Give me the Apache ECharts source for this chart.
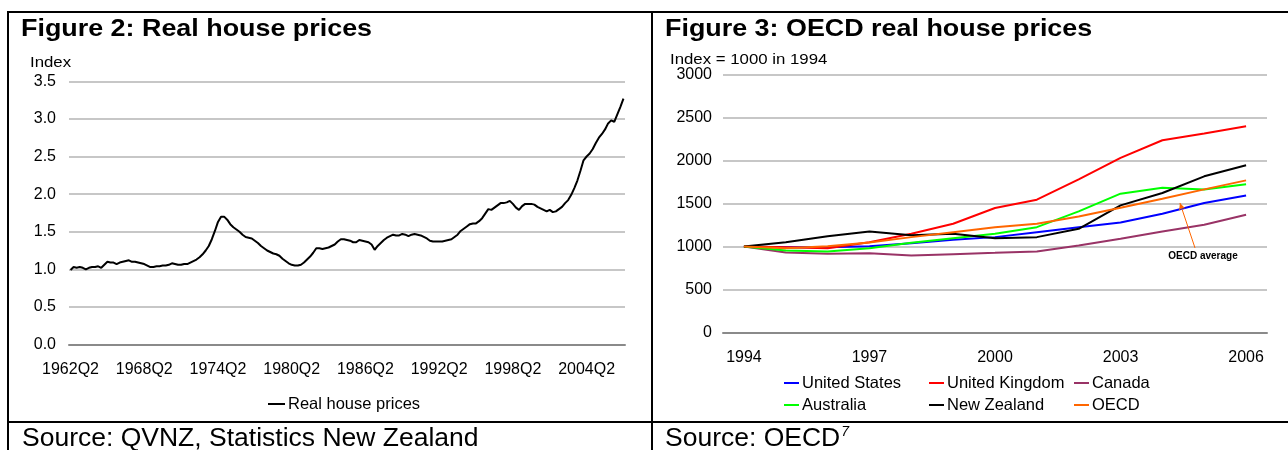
<!DOCTYPE html>
<html>
<head>
<meta charset="utf-8">
<script src="https://cdn.jsdelivr.net/npm/echarts@6/dist/echarts.min.js"></script>
<style>
  html, body { margin: 0; padding: 0; background: #ffffff; }
  #chart { width: 1288px; height: 450px; }
</style>
</head>
<body>
<div id="chart"></div>
<script>
// ---- Figure 2: real house price index, quarterly from 1962Q2 ----
const houseStartYear = 1962;
const houseStartQuarter = 2;
const realHousePrices = [
  0.99, 1.03, 1.02, 1.03, 1.02, 1.00, 1.02, 1.03, 1.03, 1.04,
  1.02, 1.06, 1.10, 1.09, 1.09, 1.07, 1.09, 1.10, 1.11, 1.12,
  1.10, 1.10, 1.09, 1.08, 1.07, 1.05, 1.03, 1.03, 1.04, 1.04,
  1.05, 1.05, 1.06, 1.08, 1.07, 1.06, 1.06, 1.07, 1.07, 1.09,
  1.11, 1.13, 1.16, 1.20, 1.25, 1.31, 1.40, 1.51, 1.63, 1.70,
  1.70, 1.66, 1.60, 1.56, 1.53, 1.50, 1.46, 1.43, 1.42, 1.41,
  1.38, 1.35, 1.31, 1.28, 1.25, 1.23, 1.21, 1.20, 1.18, 1.14,
  1.11, 1.08, 1.06, 1.05, 1.05, 1.06, 1.09, 1.13, 1.17, 1.22,
  1.28, 1.28, 1.27, 1.28, 1.29, 1.31, 1.33, 1.37, 1.40, 1.40,
  1.39, 1.38, 1.36, 1.36, 1.39, 1.38, 1.37, 1.36, 1.33, 1.26,
  1.31, 1.35, 1.39, 1.42, 1.44, 1.46, 1.45, 1.45, 1.47, 1.46,
  1.44, 1.46, 1.47, 1.46, 1.45, 1.43, 1.41, 1.38, 1.37, 1.37,
  1.37, 1.37, 1.38, 1.39, 1.40, 1.43, 1.46, 1.51, 1.54, 1.57,
  1.60, 1.61, 1.61, 1.64, 1.68, 1.74, 1.80, 1.79, 1.82, 1.85,
  1.88, 1.88, 1.89, 1.91, 1.87, 1.82, 1.79, 1.84, 1.87, 1.87,
  1.87, 1.86, 1.83, 1.81, 1.79, 1.77, 1.79, 1.76, 1.77, 1.80,
  1.83, 1.88, 1.92, 1.99, 2.08, 2.18, 2.31, 2.45, 2.50, 2.54,
  2.60, 2.68, 2.75, 2.80, 2.86, 2.94, 2.98, 2.96, 3.06, 3.16,
  3.27
];
const houseYTicks = { min: 0, max: 3.5, step: 0.5 };

// quarter labels such as "1962Q2"
const houseQuarters = realHousePrices.map(function (_, i) {
  const q = houseStartQuarter - 1 + i;
  return (houseStartYear + Math.floor(q / 4)) + 'Q' + (q % 4 + 1);
});

// ---- Figure 3: OECD real house prices, index = 1000 in 1994 ----
const oecdYears = ['1994', '1995', '1996', '1997', '1998', '1999', '2000',
                   '2001', '2002', '2003', '2004', '2005', '2006'];
const unitedStates  = [1000,  992,  992, 1004, 1039, 1078, 1109, 1167, 1225, 1280, 1381, 1505, 1594];
const unitedKingdom = [1000,  990,  980, 1050, 1148, 1264, 1447, 1544, 1781, 2030, 2235, 2313, 2399];
const canada        = [1000,  930,  915,  922,  895,  911,  926,  942, 1012, 1089, 1175, 1253, 1369];
const australia     = [1000,  953,  942,  981, 1043, 1097, 1148, 1225, 1408, 1614, 1684, 1664, 1723];
const newZealand    = [1000, 1050, 1120, 1175, 1132, 1148, 1097, 1109, 1206, 1478, 1622, 1816, 1944];
const oecd          = [1000,  980, 1004, 1047, 1109, 1167, 1225, 1264, 1350, 1451, 1556, 1664, 1769];
const oecdYTicks = { min: 0, max: 3000, step: 500 };

// callout for the OECD line: [year, index] for text, arrow tail and arrow head
const oecdCalloutText = [2004.97, 889];
const oecdCalloutTail = [2004.78, 983];
const oecdCalloutHead = [2004.42, 1506];

const FONT = '"Liberation Sans", Arial, sans-serif';
const GRID_LINE = '#b4b4b4';
const AXIS_LINE = '#8a8a8a';

const chart = echarts.init(document.getElementById('chart'), null, { renderer: 'canvas' });

function lineSeries(name, data, color, xi, yi) {
  return {
    name: name, type: 'line', data: data,
    xAxisIndex: xi, yAxisIndex: yi,
    showSymbol: false, symbol: 'none', smooth: false,
    lineStyle: { color: color, width: 2 },
    itemStyle: { color: color },
    emphasis: { disabled: true },
    animation: false
  };
}

const legendText = { fontFamily: FONT, fontSize: 16.5, color: '#000', padding: [0, 0, 0, -2], lineHeight: 18 };

function legendColumn(left, names) {
  return {
    left: left, top: 374, orient: 'vertical', padding: 0,
    icon: 'rect', itemWidth: 15, itemHeight: 2, itemGap: 4,
    selectedMode: false,
    textStyle: legendText,
    data: names
  };
}

// heading / note text drawn slightly wide, as in the printed report
function note(left, top, text, font, sx) {
  return { type: 'text', left: left, top: top, scaleX: sx || 1, originX: 0,
           style: { text: text, font: font, fill: '#000' } };
}

const option = {
  animation: false,
  backgroundColor: '#ffffff',
  textStyle: { fontFamily: FONT },
  grid: [
    { left: 69, top: 81.3, width: 556, height: 263.2, containLabel: false },
    { left: 723, top: 74.5, width: 544, height: 258, containLabel: false }
  ],
  xAxis: [
    {
      type: 'category', gridIndex: 0, data: houseQuarters, boundaryGap: true,
      axisLine: { show: true, lineStyle: { color: AXIS_LINE, width: 2 } },
      axisTick: { show: false },
      axisLabel: { interval: 23, margin: 17, fontFamily: FONT, fontSize: 16, color: '#000' },
      splitLine: { show: false }
    },
    {
      type: 'category', gridIndex: 1, data: oecdYears, boundaryGap: true,
      axisLine: { show: true, lineStyle: { color: AXIS_LINE, width: 2 } },
      axisTick: { show: false },
      axisLabel: { interval: 2, margin: 17, fontFamily: FONT, fontSize: 16, color: '#000' },
      splitLine: { show: false }
    },
    {
      // numeric year scale over the same band, used to place the callout
      type: 'value', gridIndex: 1, min: 1993.5, max: 2006.5, show: false
    }
  ],
  yAxis: [
    {
      type: 'value', gridIndex: 0,
      min: houseYTicks.min, max: houseYTicks.max, interval: houseYTicks.step,
      axisLine: { show: false }, axisTick: { show: false },
      axisLabel: { margin: 13, fontFamily: FONT, fontSize: 16, color: '#000',
                   formatter: function (v) { return v.toFixed(1); } },
      splitLine: { show: true, lineStyle: { color: GRID_LINE, width: 1.5 } }
    },
    {
      type: 'value', gridIndex: 1,
      min: oecdYTicks.min, max: oecdYTicks.max, interval: oecdYTicks.step,
      axisLine: { show: false }, axisTick: { show: false },
      axisLabel: { margin: 11, fontFamily: FONT, fontSize: 16, color: '#000',
                   formatter: function (v) { return String(v); } },
      splitLine: { show: true, lineStyle: { color: GRID_LINE, width: 1.5 } }
    }
  ],
  legend: [
    {
      left: 268, top: 395, padding: 0,
      icon: 'rect', itemWidth: 17, itemHeight: 2, itemGap: 10,
      selectedMode: false,
      textStyle: legendText,
      data: ['Real house prices']
    },
    legendColumn(784, ['United States', 'Australia']),
    legendColumn(929, ['United Kingdom', 'New Zealand']),
    legendColumn(1074, ['Canada', 'OECD'])
  ],
  series: [
    lineSeries('Real house prices', realHousePrices, '#000000', 0, 0),
    lineSeries('United States', unitedStates, '#0000FF', 1, 1),
    lineSeries('United Kingdom', unitedKingdom, '#FF0000', 1, 1),
    lineSeries('Canada', canada, '#993366', 1, 1),
    lineSeries('Australia', australia, '#00FF00', 1, 1),
    lineSeries('New Zealand', newZealand, '#000000', 1, 1),
    lineSeries('OECD', oecd, '#FF6600', 1, 1),
    {
      // "OECD average" callout with arrow pointing at the OECD line
      name: 'oecd-callout', type: 'line', data: [],
      xAxisIndex: 2, yAxisIndex: 1, silent: true,
      markLine: {
        silent: true, animation: false,
        symbol: ['none', 'arrow'], symbolSize: [5, 7],
        lineStyle: { color: '#FF6600', width: 1, type: 'solid' },
        label: { show: false },
        data: [[{ coord: oecdCalloutTail }, { coord: oecdCalloutHead }]]
      },
      markPoint: {
        silent: true, animation: false,
        symbol: 'circle', symbolSize: 0,
        label: {
          show: true, position: 'inside', formatter: 'OECD average',
          fontFamily: FONT, fontSize: 10, fontWeight: 'bold', color: '#000'
        },
        data: [{ coord: oecdCalloutText }]
      }
    }
  ],
  graphic: [
    // table frame
    { type: 'line', shape: { x1: 7, y1: 12, x2: 1288, y2: 12 }, style: { stroke: '#000', lineWidth: 2 } },
    { type: 'line', shape: { x1: 8, y1: 12, x2: 8, y2: 450 }, style: { stroke: '#000', lineWidth: 2 } },
    { type: 'line', shape: { x1: 652, y1: 12, x2: 652, y2: 450 }, style: { stroke: '#000', lineWidth: 2 } },
    { type: 'line', shape: { x1: 7, y1: 422, x2: 1288, y2: 422 }, style: { stroke: '#000', lineWidth: 2 } },
    // panel headings
    note(21, 17, 'Figure 2: Real house prices', 'bold 24px ' + FONT, 1.12),
    note(665, 17, 'Figure 3: OECD real house prices', 'bold 24px ' + FONT, 1.12),
    // axis units
    note(30, 55, 'Index', '15px ' + FONT, 1.12),
    note(670, 52, 'Index = 1000 in 1994', '15px ' + FONT, 1.12),
    // sources
    note(22, 425, 'Source: QVNZ, Statistics New Zealand', '26.5px ' + FONT, 1),
    {
      type: 'text', left: 665, top: 425,
      style: {
        text: '{s|Source: OECD}{n|7}',
        rich: {
          s: { font: '26.5px ' + FONT, fill: '#000' },
          n: { font: 'italic 14px ' + FONT, fill: '#000', verticalAlign: 'top', padding: [0, 0, 12, 1] }
        }
      }
    }
  ]
};

chart.setOption(option);
</script>
</body>
</html>
